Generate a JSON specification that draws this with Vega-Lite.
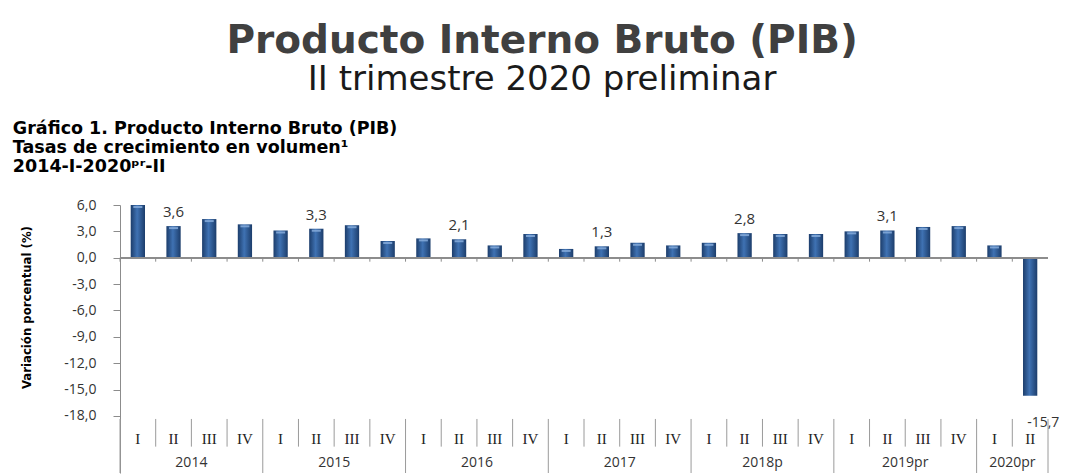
{
  "$schema": "https://vega.github.io/schema/vega-lite/v6.json",
  "background": "white",
  "padding": {"left": 12, "top": 21, "right": 0, "bottom": 0},
  "title": {
    "text": "Producto Interno Bruto (PIB)",
    "subtitle": "II trimestre 2020 preliminar",
    "anchor": "middle",
    "font": "DejaVu Sans",
    "fontSize": 39,
    "fontWeight": "bold",
    "color": "#404040",
    "subtitleFont": "DejaVu Sans",
    "subtitleFontSize": 34,
    "subtitleColor": "#1a1a1a",
    "subtitlePadding": 2,
    "offset": 23,
    "dx": 6
  },
  "config": {
    "view": {"stroke": null},
    "concat": {"spacing": 0},
    "axis": {"labelOverlap": false},
    "axisY": {"labelOverlap": false}
  },
  "vconcat": [
    {
      "width": 928,
      "height": 268,
      "title": {
        "text": ["Gráfico 1. Producto Interno Bruto (PIB)", "Tasas de crecimiento en volumen¹", "2014-I-2020ᵖʳ-II"],
        "anchor": "start",
        "font": "DejaVu Sans",
        "fontSize": 17.5,
        "fontWeight": "bold",
        "color": "#000000",
        "lineHeight": 19,
        "offset": 23,
        "dx": -8
      },
      "data": {
        "values": [
          {"id": "2014-I", "q": "I", "v": 6.0, "sep": "y"},
          {"id": "2014-II", "q": "II", "v": 3.6, "sep": "q", "lab": "3,6", "ylab": "2014"},
          {"id": "2014-III", "q": "III", "v": 4.4, "sep": "q"},
          {"id": "2014-IV", "q": "IV", "v": 3.8, "sep": "q"},
          {"id": "2015-I", "q": "I", "v": 3.1, "sep": "y"},
          {"id": "2015-II", "q": "II", "v": 3.3, "sep": "q", "lab": "3,3", "ylab": "2015"},
          {"id": "2015-III", "q": "III", "v": 3.7, "sep": "q"},
          {"id": "2015-IV", "q": "IV", "v": 1.9, "sep": "q"},
          {"id": "2016-I", "q": "I", "v": 2.2, "sep": "y"},
          {"id": "2016-II", "q": "II", "v": 2.1, "sep": "q", "lab": "2,1", "ylab": "2016"},
          {"id": "2016-III", "q": "III", "v": 1.4, "sep": "q"},
          {"id": "2016-IV", "q": "IV", "v": 2.7, "sep": "q"},
          {"id": "2017-I", "q": "I", "v": 1.0, "sep": "y"},
          {"id": "2017-II", "q": "II", "v": 1.3, "sep": "q", "lab": "1,3", "ylab": "2017"},
          {"id": "2017-III", "q": "III", "v": 1.7, "sep": "q"},
          {"id": "2017-IV", "q": "IV", "v": 1.4, "sep": "q"},
          {"id": "2018-I", "q": "I", "v": 1.7, "sep": "y"},
          {"id": "2018-II", "q": "II", "v": 2.8, "sep": "q", "lab": "2,8", "ylab": "2018p"},
          {"id": "2018-III", "q": "III", "v": 2.7, "sep": "q"},
          {"id": "2018-IV", "q": "IV", "v": 2.7, "sep": "q"},
          {"id": "2019-I", "q": "I", "v": 3.0, "sep": "y"},
          {"id": "2019-II", "q": "II", "v": 3.1, "sep": "q", "lab": "3,1", "ylab": "2019pr"},
          {"id": "2019-III", "q": "III", "v": 3.5, "sep": "q"},
          {"id": "2019-IV", "q": "IV", "v": 3.6, "sep": "q"},
          {"id": "2020-I", "q": "I", "v": 1.4, "sep": "y", "ylab": "2020pr"},
          {"id": "2020-II", "q": "II", "v": -15.7, "sep": "q", "neglab": "-15,7", "last": true}
        ]
      },
      "encoding": {
        "x": {
          "field": "id",
          "type": "nominal",
          "sort": null,
          "scale": {"type": "band", "paddingInner": 0, "paddingOuter": 0},
          "axis": null
        }
      },
      "layer": [
        {
          "mark": {
            "type": "bar",
            "width": {"band": 0.4},
            "color": {
              "gradient": "linear",
              "x1": 0, "y1": 0, "x2": 1, "y2": 0,
              "stops": [
                {"offset": 0, "color": "#1c3d6b"},
                {"offset": 0.45, "color": "#3f72b3"},
                {"offset": 1, "color": "#1c3d6b"}
              ]
            }
          },
          "encoding": {
            "y": {
              "field": "v",
              "type": "quantitative",
              "scale": {"domain": [-24.5, 6], "nice": false, "zero": false},
              "axis": {
                "values": [6, 3, 0, -3, -6, -9, -12, -15, -18],
                "tickCount": 11,
                "labelExpr": "replace(replace(format(datum.value, '.1f'), '.', ','), '\u2212', '-')",
                "labelOverlap": false,
                "grid": false,
                "domainColor": "#8c8c8c",
                "tickColor": "#8c8c8c",
                "tickSize": 7,
                "labelFont": "Open Sans",
                "labelFontSize": 14,
                "labelColor": "#333333",
                "labelPadding": 17,
                "title": "Variación porcentual (%)",
                "titleFont": "DejaVu Sans Condensed",
                "titleFontSize": 13,
                "titleFontWeight": "bold",
                "titleColor": "#000000",
                "titlePadding": 30,
                "titleY": 102
              }
            }
          }
        },
        {
          "transform": [{"filter": "datum.v > 0"}],
          "mark": {"type": "tick", "orient": "horizontal", "color": "#86acdb", "thickness": 2, "size": 9, "yOffset": 2, "opacity": 0.85},
          "encoding": {
            "x": {"field": "id", "type": "nominal", "sort": null, "bandPosition": 0.5},
            "y": {"field": "v", "type": "quantitative"}
          }
        },
        {
          "mark": {"type": "rule", "color": "#8c8c8c", "strokeWidth": 1},
          "encoding": {"x": null, "y": {"datum": 0, "type": "quantitative"}}
        },
        {
          "mark": {"type": "rule", "color": "#8c8c8c", "strokeWidth": 1},
          "encoding": {
            "x": {"field": "id", "type": "nominal", "sort": null, "bandPosition": 0},
            "y": {"datum": 0, "type": "quantitative"},
            "y2": {"datum": -0.45}
          }
        },
        {
          "transform": [{"filter": "datum.lab"}],
          "mark": {"type": "text", "font": "Open Sans", "fontSize": 15, "color": "#333333", "baseline": "bottom", "dy": -6},
          "encoding": {
            "y": {"field": "v", "type": "quantitative"},
            "text": {"field": "lab"}
          }
        },
        {
          "transform": [{"filter": "datum.neglab"}],
          "mark": {"type": "text", "font": "Open Sans", "fontSize": 14, "color": "#333333", "align": "left", "baseline": "middle", "dx": -3},
          "encoding": {
            "y": {"datum": -18.85, "type": "quantitative"},
            "text": {"field": "neglab"}
          }
        },
        {
          "transform": [{"filter": "datum.sep == 'q'"}],
          "mark": {"type": "rule", "color": "#9a9a9a", "strokeWidth": 1},
          "encoding": {
            "x": {"field": "id", "type": "nominal", "sort": null, "bandPosition": 0},
            "y": {"datum": -18.35, "type": "quantitative"},
            "y2": {"datum": -21.5}
          }
        },
        {
          "transform": [{"filter": "datum.sep == 'y'"}],
          "mark": {"type": "rule", "color": "#9a9a9a", "strokeWidth": 1},
          "encoding": {
            "x": {"field": "id", "type": "nominal", "sort": null, "bandPosition": 0},
            "y": {"datum": -18.35, "type": "quantitative"},
            "y2": {"datum": -24.5}
          }
        },
        {
          "transform": [{"filter": "datum.last"}],
          "mark": {"type": "rule", "color": "#9a9a9a", "strokeWidth": 1},
          "encoding": {
            "x": {"field": "id", "type": "nominal", "sort": null, "bandPosition": 1},
            "y": {"datum": -18.35, "type": "quantitative"},
            "y2": {"datum": -24.5}
          }
        },
        {
          "mark": {"type": "text", "font": "Liberation Serif", "fontSize": 15, "color": "#222222", "baseline": "middle"},
          "encoding": {
            "x": {"field": "id", "type": "nominal", "sort": null, "bandPosition": 0.5},
            "y": {"datum": -20.6, "type": "quantitative"},
            "text": {"field": "q"}
          }
        },
        {
          "transform": [{"filter": "datum.ylab"}],
          "mark": {"type": "text", "font": "Open Sans", "fontSize": 14, "color": "#333333", "baseline": "middle"},
          "encoding": {
            "x": {"field": "id", "type": "nominal", "sort": null, "bandPosition": 1},
            "y": {"datum": -23.4, "type": "quantitative"},
            "text": {"field": "ylab"}
          }
        }
      ]
    }
  ]
}
